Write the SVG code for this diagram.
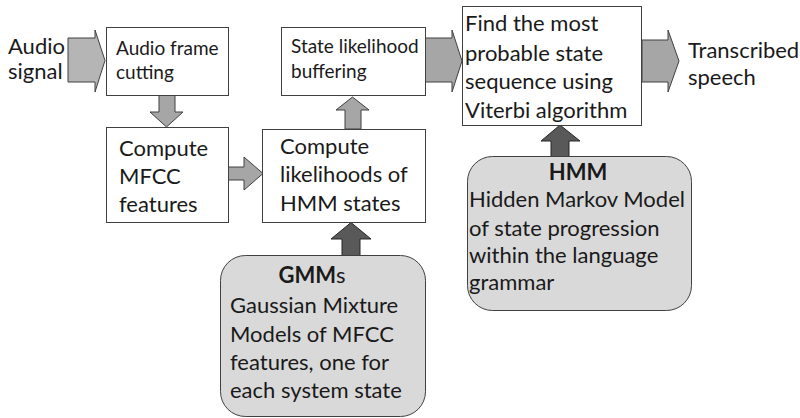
<svg xmlns="http://www.w3.org/2000/svg" width="800" height="418" viewBox="0 0 800 418">
  <style>
    .box { fill: #ffffff; stroke: #404040; stroke-width: 1; }
    .model { fill: #d9d9d9; stroke: #404040; stroke-width: 1; }
    .flow { fill: #a6a6a6; stroke: #404040; stroke-width: 1; stroke-linejoin: miter; }
    .flow-in { fill: #b5b5b5; stroke: #404040; stroke-width: 1; }
    .feed { fill: #595959; stroke: #262626; stroke-width: 1; }
    text { font-family: "Lato", "Open Sans", "Liberation Sans", sans-serif; fill: #1a1a1a; }
    .sm { font-size: 19px; }
    .md { font-size: 22px; }
    .b { font-weight: bold; }
  </style>

  <!-- block arrows between the stages -->
  <g id="connectors">
    <polygon class="flow-in" points="68,38 95,38 95,30 105,60.5 95,92 95,82 68,82"/>
    <polygon class="flow" points="159,95 175,95 175,112 183,112 166.5,127 150,112 159,112"/>
    <polygon class="flow" points="228,167 244,167 244,157 263,173.5 244,190 244,180 228,180"/>
    <polygon class="flow" points="345,129 345,110 336,110 352.5,97 369,110 361,110 361,129"/>
    <polygon class="flow" points="425,38 452,38 452,30 462,61 452,92 452,82 425,82"/>
    <polygon class="flow" points="642,40 668,40 668,30 679,61 668,92 668,82 642,82"/>
    <polygon class="feed" points="551,157 551,141 541,141 560,125 580,141 569,141 569,157"/>
    <polygon class="feed" points="342,256 342,239 331,239 351,222.5 371,239 360,239 360,256"/>
  </g>

  <g id="input-label">
    <text class="md" x="8" y="54">Audio</text>
    <text class="md" x="8" y="79">signal</text>
  </g>

  <g id="frame-cutting">
    <rect class="box" x="106.5" y="27.5" width="122" height="68"/>
    <text class="sm" x="116" y="55">Audio frame</text>
    <text class="sm" x="116" y="79">cutting</text>
  </g>

  <g id="mfcc">
    <rect class="box" x="106.5" y="127.5" width="122" height="95"/>
    <text class="md" x="119" y="156">Compute</text>
    <text class="md" x="119" y="184">MFCC</text>
    <text class="md" x="119" y="212">features</text>
  </g>

  <g id="likelihoods">
    <rect class="box" x="262.5" y="129.5" width="163" height="93"/>
    <text class="md" x="280" y="154">Compute</text>
    <text class="md" x="280" y="182">likelihoods of</text>
    <text class="md" x="280" y="211">HMM states</text>
  </g>

  <g id="buffering">
    <rect class="box" x="281.5" y="27.5" width="144" height="68"/>
    <text class="sm" x="291" y="53">State likelihood</text>
    <text class="sm" x="291" y="78">buffering</text>
  </g>

  <g id="viterbi">
    <rect class="box" x="462.5" y="6.5" width="179" height="119"/>
    <text class="md" x="465" y="31">Find the most</text>
    <text class="md" x="465" y="61">probable state</text>
    <text class="md" x="465" y="89">sequence using</text>
    <text class="md" x="465" y="118">Viterbi algorithm</text>
  </g>

  <g id="output-label">
    <text class="md" x="688" y="58">Transcribed</text>
    <text class="md" x="688" y="85">speech</text>
  </g>

  <g id="hmm">
    <rect class="model" x="467.5" y="156.5" width="224" height="154" rx="25" ry="25"/>
    <text class="md b" x="578" y="180" text-anchor="middle">HMM</text>
    <text class="md" x="469" y="207">Hidden Markov Model</text>
    <text class="md" x="469" y="236">of state progression</text>
    <text class="md" x="469" y="263">within the language</text>
    <text class="md" x="469" y="290">grammar</text>
  </g>

  <g id="gmm">
    <rect class="model" x="220.5" y="255.5" width="205" height="161" rx="25" ry="25"/>
    <text class="md" x="312" y="283" text-anchor="middle"><tspan class="b">GMM</tspan>s</text>
    <text class="md" x="230" y="313">Gaussian Mixture</text>
    <text class="md" x="230" y="342">Models of MFCC</text>
    <text class="md" x="230" y="370">features, one for</text>
    <text class="md" x="230" y="398">each system state</text>
  </g>
</svg>
